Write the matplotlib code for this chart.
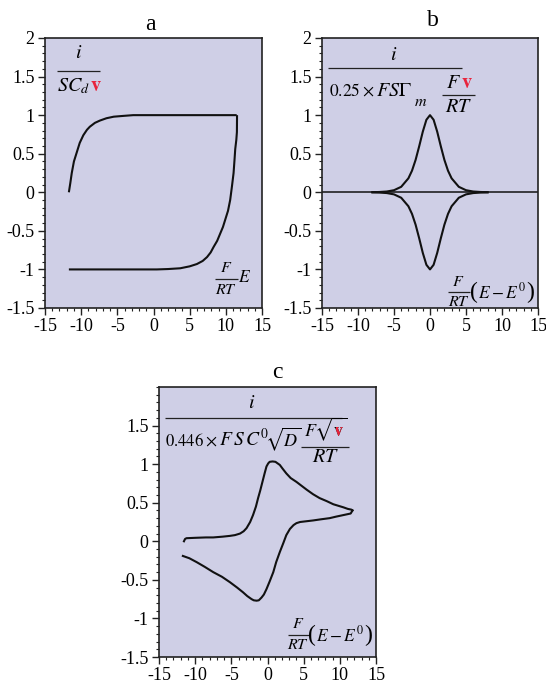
import matplotlib
matplotlib.use("Agg")
import matplotlib.pyplot as plt
from matplotlib.ticker import MultipleLocator
from matplotlib.lines import Line2D
from matplotlib.transforms import Bbox

plt.rcParams['font.family'] = ['Liberation Serif', 'DejaVu Serif']
plt.rcParams['mathtext.fontset'] = 'stix'

# ---- data ----
# panel a: capacitive CV
a_fwd_x = [-11.7, -11.5, -11.3, -11.0, -10.6, -10.2, -9.7, -9.2, -8.8, -8.1, -7.4, -6.5, -5.5, -4.2, -2.8, 0.0, 5.0, 11.5]
a_fwd_y = [0.0, 0.12, 0.25, 0.40, 0.52, 0.64, 0.74, 0.81, 0.85, 0.90, 0.93, 0.96, 0.98, 0.99, 1.0, 1.0, 1.0, 1.0]
a_rev_x = [11.55, 11.53, 11.45, 11.3, 11.2, 11.07, 10.85, 10.6, 10.3, 9.9, 9.6, 9.2, 8.8, 8.3, 7.9, 7.4, 6.8, 6.0, 5.0, 3.7, 2.0, 0.46, -5.0, -11.7]
a_rev_y = [1.0, 0.78, 0.68, 0.56, 0.42, 0.25, 0.08, -0.10, -0.24, -0.36, -0.45, -0.54, -0.63, -0.71, -0.78, -0.84, -0.89, -0.93, -0.96, -0.985, -0.995, -1.0, -1.0, -1.0]

# panel b: thin-layer (surface) CV
b_x = [-8, -7, -6, -5, -4, -3, -2.5, -2, -1.5, -1, -0.5, 0, 0.5, 1, 1.5, 2, 2.5, 3, 4, 5, 6, 7, 8]
b_y = [0.001, 0.004, 0.010, 0.027, 0.071, 0.181, 0.280, 0.420, 0.597, 0.786, 0.940, 1.0,
       0.940, 0.786, 0.597, 0.420, 0.280, 0.181, 0.071, 0.027, 0.010, 0.004, 0.001]

# panel c: diffusion-controlled CV
c_fwd_x = [-11.55, -11.4, -11.2, -10.0, -8.5, -7.5, -6.2, -5.2, -4.5, -3.8, -3.3, -2.9, -2.4, -2.0, -1.6, -1.3, -1.0, -0.7, -0.4, -0.14, 0.1, 0.3, 0.7, 1.1, 1.4, 1.7, 2.1, 2.6, 3.2, 4.0, 4.7, 5.4, 6.3, 7.2, 8.2, 9.1, 9.8, 10.5, 11.1, 11.6, 11.75]
c_fwd_y = [0.0, 0.03, 0.04, 0.045, 0.05, 0.05, 0.06, 0.07, 0.08, 0.10, 0.13, 0.17, 0.25, 0.34, 0.45, 0.56, 0.66, 0.77, 0.88, 0.97, 1.01, 1.03, 1.035, 1.03, 1.01, 0.99, 0.94, 0.88, 0.82, 0.77, 0.72, 0.67, 0.61, 0.56, 0.52, 0.48, 0.46, 0.44, 0.42, 0.41, 0.40]
c_rev_x = [11.75, 11.5, 10.5, 9.5, 8.6, 7.4, 6.3, 5.4, 4.5, 4.0, 3.6, 3.1, 2.6, 2.2, 1.7, 1.2, 0.8, 0.3, -0.14, -0.5, -0.83, -1.2, -1.5, -1.9, -2.2, -2.8, -3.4, -4.2, -5.2, -6.3, -7.5, -8.7, -9.8, -10.8, -11.7]
c_rev_y = [0.40, 0.36, 0.34, 0.32, 0.30, 0.285, 0.27, 0.26, 0.25, 0.235, 0.21, 0.16, 0.08, -0.02, -0.14, -0.27, -0.40, -0.52, -0.62, -0.69, -0.73, -0.765, -0.77, -0.765, -0.75, -0.71, -0.66, -0.60, -0.53, -0.46, -0.40, -0.33, -0.27, -0.22, -0.19]

x_ticks = [-15, -10, -5, 0, 5, 10, 15]
x_ticklabels = ['-15', '-10', '-5', '0', '5', '10', '15']
y_ticks_ab = [-1.5, -1, -0.5, 0, 0.5, 1, 1.5, 2]
y_ticklabels_ab = ['-1.5', '-1', '-0.5', '0', '0.5', '1', '1.5', '2']
y_ticks_c = [-1.5, -1, -0.5, 0, 0.5, 1, 1.5]
y_ticklabels_c = ['-1.5', '-1', '-0.5', '0', '0.5', '1', '1.5']
panel_titles = ['a', 'b', 'c']

BG = '#CFCFE6'
LC = '#111111'
RED = '#E8243C'

fig = plt.figure(figsize=(5.46, 6.89), dpi=100)
W, H = 546, 689
R = fig.canvas.get_renderer()

def make_ax(l, t, r, b):
    return fig.add_axes([l / W, 1 - b / H, (r - l) / W, (b - t) / H])

ax_a = make_ax(45, 38, 262, 308)
ax_b = make_ax(322, 38, 538, 308)
ax_c = make_ax(159, 387, 376, 657)

def style(ax, yt, ytl):
    ax.set_facecolor(BG)
    ax.set_xlim(-15, 15)
    ax.set_ylim(-1.5, 2)
    ax.set_xticks(x_ticks)
    ax.set_xticklabels(x_ticklabels)
    ax.set_yticks(yt)
    ax.set_yticklabels(ytl)
    ax.xaxis.set_minor_locator(MultipleLocator(1))
    ax.yaxis.set_minor_locator(MultipleLocator(0.1))
    ax.tick_params(which='major', direction='out', length=5, width=1.0, labelsize=13, pad=2.5, color='#222222')
    ax.tick_params(which='minor', direction='out', length=2.5, width=0.8, color='#222222')
    for s in ax.spines.values():
        s.set_linewidth(1.2)
        s.set_color('#222222')

style(ax_a, y_ticks_ab, y_ticklabels_ab)
style(ax_b, y_ticks_ab, y_ticklabels_ab)
style(ax_c, y_ticks_c, y_ticklabels_c)

# curves
ax_a.plot(a_fwd_x, a_fwd_y, color=LC, lw=1.5, solid_capstyle='butt')
ax_a.plot(a_rev_x, a_rev_y, color=LC, lw=1.5, solid_capstyle='butt')

ax_b.axhline(0, color=LC, lw=1.1)
ax_b.plot(b_x, b_y, color=LC, lw=1.5)
ax_b.plot(b_x, [-v for v in b_y], color=LC, lw=1.5)

ax_c.plot(c_fwd_x, c_fwd_y, color=LC, lw=1.5)
ax_c.plot(c_rev_x, c_rev_y, color=LC, lw=1.5)

# ---- text helpers (positions in figure pixels from top-left) ----
def T(x, y, s, size, ha='left', va='center', **kw):
    return fig.text(x / W, 1 - y / H, s, ha=ha, va=va, fontsize=size, **kw)

def L(x0, x1, y, lw=0.9):
    fig.add_artist(Line2D([x0 / W, x1 / W], [1 - y / H, 1 - y / H], transform=fig.transFigure,
                          color='#222222', lw=lw, solid_capstyle='butt'))

def chain(x, y, parts, va='baseline'):
    """place text parts left to right; each part = (text, size, gap_before, kwargs)"""
    out = []
    for s, size, gap, kw in parts:
        t = T(x + gap, y, s, size, va=va, **kw)
        bb = t.get_window_extent(R)
        out.append(t)
        x = bb.x1
    return out, x

# panel titles
T(150, 24, panel_titles[0], 17, ha='center')
T(433, 21, panel_titles[1], 17, ha='center')
T(277, 372, panel_titles[2], 17, ha='center')

FS = 14.5
FSD = 12.5
FS2 = 11.5
FSE = 12.5

# panel a label
T(78.5, 53, r'$i$', FS, ha='center')
L(57, 100, 71)
chain(57, 91, [(r'$SC_d$', FS, 0, {}), (r'$\mathbf{v}$', FS, 0.3, {'color': RED})])

# panel a x-quantity
T(226.5, 268, r'$F$', FS2, ha='center')
L(215, 238, 279)
T(226.5, 290, r'$RT$', FS2, ha='center')
T(238.5, 278, r'$E$', FSE)

# panel b label
T(393.5, 55, r'$i$', FS, ha='center')
L(328, 462, 68)
_, xe = chain(329, 96, [(r'$0.25$', FSD, 0, {}), (r'$\times$', FSD, 1.5, {}),
                        (r'$FS\mathit{\Gamma}$', FS, 2, {})])
T(xe + 2, 102, r'$m$', FS2)
nums, xe2 = chain(446, 88, [(r'$F$', FS, 0, {}), (r'$\mathbf{v}$', FS, 0.3, {'color': RED})])
L(442, xe2 + 2, 95)
T((442 + xe2 + 2) / 2, 107, r'$RT$', FS, ha='center')

# panel b x-quantity
T(458, 282, r'$F$', FS2, ha='center')
L(448, 470, 292)
T(459, 302, r'$RT$', FS2, ha='center')
chain(470, 292, [('(', 17, 0, {}), (r'$E-E^0$', FSE, 0.3, {}), (')', 17, 0.3, {})], va='center')

# panel c label
T(251.5, 404, r'$i$', FS, ha='center')
L(165, 342, 418)
_, xe = chain(165, 446, [(r'$0.446$', 12, 0, {}), (r'$\times$', FSD, 1, {}),
                         (r'$F\,S\,C^0$', 14, 1.5, {}), (r'$\sqrt{D}$', 13, -4, {})])
xs = xe + 3
t_num = T(xs, 436, r'$F\sqrt{\mathbf{v}}$', 13, va='baseline')
t_red = T(xs, 436, r'$F\sqrt{\mathbf{v}}$', 13, va='baseline', color=RED)
nb = t_num.get_window_extent(R)
L(nb.x0 - 3, nb.x1 + 2, 447)
T((nb.x0 + nb.x1) / 2, 458, r'$RT$', FS, ha='center')

# panel c x-quantity
T(298, 624, r'$F$', FS2, ha='center')
L(288, 309, 635)
T(298, 645, r'$RT$', FS2, ha='center')
chain(308, 635, [('(', 17, 0, {}), (r'$E-E^0$', FSE, 0.3, {}), (')', 17, 0.3, {})], va='center')

# colour the radicand red: overlay a red copy clipped to the v area
tmp = fig.text(0, 0, r'$\mathbf{v}$', fontsize=13)
vb = tmp.get_window_extent(R)
tmp.remove()
clip = Bbox.from_extents(nb.x1 - vb.width - 1, nb.y0 - 2, nb.x1 + 2, nb.y1 - 5)
t_red.set_clip_box(clip)
t_red.set_clip_on(True)
t_red.set_zorder(5)

fig.savefig('out.png', dpi=100)
